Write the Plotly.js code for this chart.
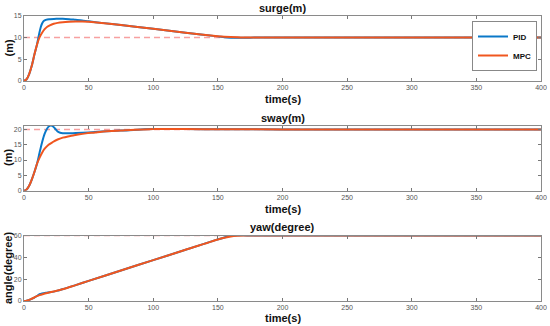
<!DOCTYPE html>
<html>
<head>
<meta charset="utf-8">
<script src="https://cdn.plot.ly/plotly-3.0.1.min.js"></script>
<style>html,body{margin:0;padding:0;background:#fff}#chart{width:550px;height:326px}</style>
</head>
<body>
<div id="chart"></div>
<script>
// ---- data ----
const timeTicks = [0, 50, 100, 150, 200, 250, 300, 350, 400];
const surgeTicks = [0, 5, 10, 15];
const swayTicks = [0, 5, 10, 15, 20];
const yawTicks = [0, 20, 40, 60];

const surgeRef = 10, swayRef = 20, yawRef = 60;

const surgePidT = [0,2,4,6,8,10,11,12,13,14,15,16,18,20,25,30,35,40,45,50,60,75,100,125,150,155,160,165,170,175,180,190,200,400];
const surgePid  = [0,0.4,1.6,3.5,6.0,8.3,9.8,11.2,12.4,13.2,13.7,13.95,14.15,14.2,14.3,14.3,14.2,14.05,13.9,13.7,13.35,12.85,12.0,11.1,10.25,10.05,9.95,9.92,9.93,9.96,9.98,10.0,10.0,10.0];
const surgeMpcT = [0,2,4,6,8,10,12,14,16,18,20,23,26,30,35,40,45,50,60,75,100,125,150,160,165,170,180,400];
const surgeMpc  = [0,0.4,1.6,3.5,6.0,8.3,10.0,11.1,11.9,12.45,12.8,13.15,13.35,13.5,13.6,13.65,13.65,13.6,13.35,12.85,12.0,11.1,10.3,10.08,10.03,10.0,10.0,10.0];

const swayPidT = [0,2,4,6,8,10,12,14,16,17.5,19,20.5,22,24,26,28,30,32,35,40,50,60,75,100,125,150,200,400];
const swayPid  = [0,0.4,1.6,3.6,6.0,8.7,12.3,15.8,18.6,20.0,20.9,21.3,21.1,20.3,19.3,18.9,18.75,18.7,18.72,18.8,19.0,19.3,19.6,20.1,20.1,20.05,20.0,20.0];
const swayMpcT = [0,2,4,6,8,10,12,14,16,19,22,26,30,34,38,43,48,55,60,75,100,125,150,200,400];
const swayMpc  = [0,0.4,1.6,3.6,6.0,8.7,10.7,12.4,13.7,15.0,15.8,16.7,17.3,17.7,18.0,18.4,18.7,19.0,19.25,19.6,20.1,20.1,20.05,20.0,20.0];

const yawPidT = [0,2,5,8,10,12,14,17,20,23,26,29,32,40,50,75,100,125,150,155,160,165,170,175,180,400];
const yawPid  = [0,0.3,1.5,3.2,4.6,6.2,7.0,7.6,8.0,8.6,9.5,10.6,11.6,14.6,18.5,28,37.5,47,56.5,58.3,59.8,60.35,60.3,60.1,60.0,60.0];
const yawMpcT = [0,2,5,8,10,12,15,18,22,26,29,32,40,50,75,100,125,150,155,160,165,170,175,400];
const yawMpc  = [0,0.3,1.5,3.2,4.4,5.4,6.5,7.4,8.5,9.6,10.5,11.5,14.6,18.5,28,37.5,47,56.5,58.0,59.2,59.8,60.0,60.0,60.0];

// ---- styles ----
const BLUE = '#0a78c8', ORANGE = '#f0561f', REFC = '#f7a0a0';
const FONT = 'Liberation Sans, Arial, sans-serif';

function refTrace(v, xa, ya) {
  return {x: [0, 400], y: [v, v], xaxis: xa, yaxis: ya, mode: 'lines', showlegend: false,
          line: {color: REFC, width: 1.5, dash: '6px,4px'}, hoverinfo: 'skip'};
}
function lineTrace(x, y, name, color, xa, ya, show) {
  return {x: x, y: y, name: name, xaxis: xa, yaxis: ya, mode: 'lines', showlegend: show,
          line: {color: color, width: 2, shape: 'spline', smoothing: 0.7}};
}

const traces = [
  refTrace(surgeRef, 'x', 'y'),
  lineTrace(surgePidT, surgePid, 'PID', BLUE, 'x', 'y', true),
  lineTrace(surgeMpcT, surgeMpc, 'MPC', ORANGE, 'x', 'y', true),
  refTrace(swayRef, 'x2', 'y2'),
  lineTrace(swayPidT, swayPid, 'PID', BLUE, 'x2', 'y2', false),
  lineTrace(swayMpcT, swayMpc, 'MPC', ORANGE, 'x2', 'y2', false),
  refTrace(yawRef, 'x3', 'y3'),
  lineTrace(yawPidT, yawPid, 'PID', BLUE, 'x3', 'y3', false),
  lineTrace(yawMpcT, yawMpc, 'MPC', ORANGE, 'x3', 'y3', false)
];

const H = 326;
function dom(top, bottom) { return [1 - bottom / H, 1 - top / H]; }

function xax(anchor) {
  return {anchor: anchor, range: [0, 400], tickvals: timeTicks, ticks: 'inside', ticklen: 3,
          tickcolor: '#777', showline: true, mirror: 'ticks', linecolor: '#8a8a8a', linewidth: 1,
          showgrid: false, zeroline: false, automargin: false,
          tickfont: {family: FONT, size: 7, color: '#555'}};
}
function yax(anchor, domain, range, ticks) {
  return {anchor: anchor, domain: domain, range: range, tickvals: ticks, ticks: 'inside', ticklen: 3,
          tickcolor: '#777', showline: true, mirror: 'ticks', linecolor: '#8a8a8a', linewidth: 1,
          showgrid: false, zeroline: false, automargin: false,
          tickfont: {family: FONT, size: 7, color: '#555'}};
}

const d1 = dom(15.7, 81), d2 = dom(125.7, 190.7), d3 = dom(235.6, 301);

function ann(text, x, ypx, size, angle) {
  return {text: '<b>' + text + '</b>', xref: 'paper', yref: 'paper', x: x, y: 1 - ypx / H,
          xanchor: 'center', yanchor: 'middle', showarrow: false, textangle: angle || 0,
          font: {family: FONT, size: size, color: '#111'}};
}
const xl = (8 - 24) / 517;

const layout = {
  width: 550, height: 326,
  margin: {l: 24, r: 9, t: 0, b: 0},
  paper_bgcolor: '#fff', plot_bgcolor: '#fff',
  showlegend: true,
  legend: {x: (537 - 24) / 517, xanchor: 'right', y: 1 - 21 / H, yanchor: 'top',
           bgcolor: '#fff', bordercolor: '#888', borderwidth: 1,
           font: {family: FONT, size: 8, color: '#111', weight: 'bold'},
           itemwidth: 30, tracegroupgap: 0},
  xaxis: xax('y'), yaxis: yax('x', d1, [0, 15], surgeTicks),
  xaxis2: xax('y2'), yaxis2: yax('x2', d2, [0, 21.2], swayTicks),
  xaxis3: xax('y3'), yaxis3: yax('x3', d3, [0, 60], yawTicks),
  annotations: [
    ann('surge(m)', 0.5, 8.5, 11),
    ann('time(s)', 0.5, 99, 11),
    ann('(m)', xl, 48.5, 11, -90),
    ann('sway(m)', 0.5, 118, 11),
    ann('time(s)', 0.5, 208.5, 11),
    ann('(m)', xl, 158, 11, -90),
    ann('yaw(degree)', 0.5, 227, 11),
    ann('time(s)', 0.5, 318, 11),
    ann('angle(degree)', xl, 268, 11, -90)
  ]
};

Plotly.newPlot('chart', traces, layout, {staticPlot: true, displayModeBar: false});
</script>
</body>
</html>
